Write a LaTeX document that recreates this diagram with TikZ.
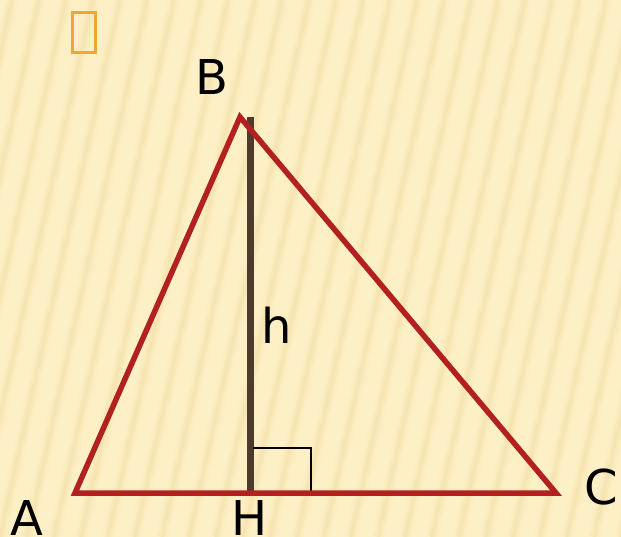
\documentclass[tikz,border=0pt]{standalone}
\usepackage{fontspec}
\setmainfont{DejaVu Sans}
\definecolor{bgyel}{HTML}{FDF0C6}
\definecolor{stripe}{HTML}{F1DCA0}
\definecolor{trired}{HTML}{B2201F}
\definecolor{altbrown}{HTML}{4E3B2C}
\definecolor{tofu}{HTML}{F0A535}
\tikzset{
  tri/.style={draw=trired, line width=5.5pt, line join=miter},
  altline/.style={draw=altbrown, line width=7pt},
  rangle/.style={draw=black, line width=1.4pt},
  lbl/.style={font=\fontsize{48}{48}\selectfont, text=black, inner sep=0pt},
  band/.style={draw=stripe, line cap=butt},
}
\begin{document}
\begin{tikzpicture}[x=1pt,y=-1pt]
\useasboundingbox (0,0) rectangle (621,537);
\fill[bgyel] (0,0) rectangle (621,537);
\begin{scope}
\clip (0,0) rectangle (621,537);
\foreach \i in {-8,...,26}{
  \draw[band, line width=12pt, opacity=0.15] ({\i*27},537) -- ({\i*27+120},0);
  \draw[band, line width=7pt, opacity=0.2] ({\i*27},537) -- ({\i*27+120},0);
  \draw[band, line width=3pt, opacity=0.25] ({\i*27},537) -- ({\i*27+120},0);
}
\end{scope}
% vertices
\coordinate (A) at (75,493);
\coordinate (B) at (240,117);
\coordinate (C) at (556,493);
\coordinate (Ht) at (250,117);
\coordinate (H) at (250,493);
\coordinate (R1) at (253,448);
\coordinate (R2) at (311,448);
\coordinate (R3) at (311,493);
% altitude
\draw[altline] (Ht) -- (H);
% right angle mark
\draw[rangle] (R1) -- (R2) -- (R3);
% triangle
\draw[tri] (A) -- (B) -- (C) -- cycle;
% labels
\node[lbl] (lB) at (212,77) {B};
\node[lbl] (lA) at (27,518) {A};
\node[lbl] (lH) at (250,518) {H};
\node[lbl] (lC) at (601,487) {C};
\node[lbl] (lh) at (277,325) {h};
% missing-glyph box
\node[draw=tofu, line width=3.2pt, minimum width=23pt, minimum height=40pt, inner sep=0pt] (tofu) at (84,32.5) {};
\end{tikzpicture}
\end{document}
